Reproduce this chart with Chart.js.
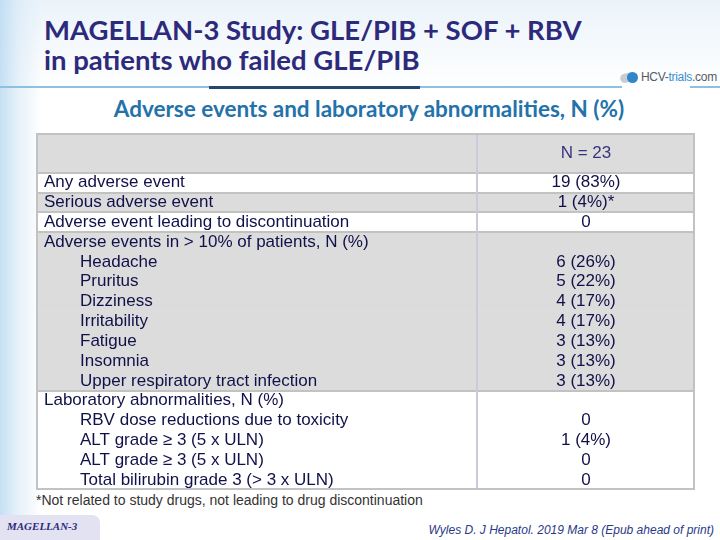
<!DOCTYPE html>
<html>
<head>
<meta charset="utf-8">
<script src="https://cdn.jsdelivr.net/npm/chart.js@4/dist/chart.umd.min.js"></script>
<style>
  html, body { margin: 0; padding: 0; }
  body { width: 720px; height: 540px; position: relative; overflow: hidden; background: #ffffff; font-family: "Liberation Sans", Arial, sans-serif; }
  #bg { position: absolute; left: 0; top: 0; width: 720px; height: 540px;
        background: linear-gradient(90deg, rgba(190,220,242,0.9) 0px, rgba(214,232,246,0.6) 18px, rgba(255,255,255,0) 42px),
                    linear-gradient(180deg, rgba(226,238,248,0.7) 0px, rgba(255,255,255,0) 90px); }
  .title { position: absolute; left: 44px; color: #2d2a7c; font-family: Lato, "Open Sans", sans-serif; font-weight: 700; font-size: 27.5px; white-space: nowrap; line-height: 30px; }
  #t1 { top: 15px; }
  #t2 { top: 45px; }
  #rule1 { position: absolute; left: 0; top: 86px; width: 622px; height: 2px; background: #8fc0e2; }
  #rule2 { position: absolute; left: 690px; top: 86px; width: 30px; height: 2px; background: #8fc0e2; }
  #rule3 { position: absolute; left: 209px; top: 86px; width: 211px; height: 3px; background: #25466e; }
  #logo { position: absolute; left: 618px; top: 70px; width: 100px; height: 16px; }
  #logo .pill { position: absolute; left: 2px; top: 3px; width: 16px; height: 9px; border-radius: 5px; background: #c9ccd2; transform: rotate(-15deg); }
  #logo .dot { position: absolute; left: 9px; top: 2px; width: 11px; height: 11px; border-radius: 6px; background: #2f86c8; }
  #logo .txt { position: absolute; left: 23px; top: 0px; font-family: "Liberation Sans Narrow", "Liberation Sans", sans-serif; font-size: 12px; letter-spacing: -0.3px; color: #555b66; white-space: nowrap; }
  #logo .txt b { font-weight: normal; color: #3b8fd0; }
  #sub { position: absolute; left: 0; width: 738px; top: 95px; text-align: center; color: #2372aa; font-family: Lato, "Open Sans", sans-serif; font-weight: 700; font-size: 22.5px; white-space: nowrap; }
  #wrap { position: absolute; left: 36px; top: 133px; width: 659px; height: 357px; }
  #foot { position: absolute; left: 36px; top: 492px; font-size: 14px; color: #333333; white-space: nowrap; }
  #badge { position: absolute; left: 0; top: 515px; width: 100px; height: 25px; background: #e2e2f2; border-top-right-radius: 8px; }
  #badge span { position: absolute; left: 7px; top: 5px; font-family: "Liberation Serif", serif; font-style: italic; font-weight: bold; font-size: 11px; color: #2d2a7c; }
  #ref { position: absolute; right: 6px; top: 523px; font-style: italic; font-size: 12px; color: #2a3a86; white-space: nowrap; }
</style>
</head>
<body>
<div id="bg"></div>
<div class="title" id="t1">MAGELLAN-3 Study: GLE/PIB + SOF + RBV</div>
<div class="title" id="t2">in patients who failed GLE/PIB</div>
<div id="rule1"></div><div id="rule2"></div><div id="rule3"></div>
<div id="logo"><div class="pill"></div><div class="dot"></div><div class="txt">HCV-<b>trials</b>.com</div></div>
<div id="sub">Adverse events and laboratory abnormalities, N (%)</div>
<div id="wrap"><canvas id="c" width="659" height="357"></canvas></div>
<div id="foot">*Not related to study drugs, not leading to drug discontinuation</div>
<div id="badge"><span>MAGELLAN-3</span></div>
<div id="ref">Wyles D. J Hepatol. 2019 Mar 8 (Epub ahead of print)</div>
<script>
// ---- data ----
const columnHeader = "N = 23";
const rowLabels = [
  "Any adverse event",
  "Serious adverse event",
  "Adverse event leading to discontinuation",
  "Adverse events in > 10% of patients, N (%)",
  "Headache",
  "Pruritus",
  "Dizziness",
  "Irritability",
  "Fatigue",
  "Insomnia",
  "Upper respiratory tract infection",
  "Laboratory abnormalities, N (%)",
  "RBV dose reductions due to toxicity",
  "ALT grade \u2265 3 (5 x ULN)",
  "ALT grade \u2265 3 (5 x ULN)",
  "Total bilirubin grade 3 (> 3 x ULN)"
];
const rowValues = [
  "19 (83%)", "1 (4%)*", "0", "",
  "6 (26%)", "5 (22%)", "4 (17%)", "4 (17%)", "3 (13%)", "3 (13%)", "3 (13%)",
  "", "0", "1 (4%)", "0", "0"
];
// 0 = section row, 1 = sub-item of the section above
const rowLevel = [0, 0, 0, 0, 1, 1, 1, 1, 1, 1, 1, 0, 1, 1, 1, 1];

// ---- derived table structure ----
const headerBands = 2;
const bandLabels = [];
for (let i = 0; i < headerBands; i++) bandLabels.push("");
rowLabels.forEach(l => bandLabels.push(l));
// group index per band: header = 0, every section row starts a new group
const bandGroup = [];
for (let i = 0; i < headerBands; i++) bandGroup.push(0);
let g = 0;
rowLevel.forEach(lv => { if (lv === 0) g++; bandGroup.push(g); });

const GRAY = "#dcdcdc", WHITE = "#ffffff";
const TEXT = "#10104a", HEAD_TEXT = "#35357c";
const SPLIT = 0.669;
const FONT = '17px "Liberation Sans", Arial, sans-serif';

const tablePlugin = {
  id: "tableText",
  afterDatasetsDraw(chart) {
    const ctx = chart.ctx, ys = chart.scales.y, xs = chart.scales.x;
    const ca = chart.chartArea;
    const xSplit = Math.round(xs.getPixelForValue(SPLIT));
    const band = ys.getPixelForValue(1) - ys.getPixelForValue(0);
    ctx.save();
    // horizontal borders between groups
    ctx.strokeStyle = "#c2c2c2";
    ctx.lineWidth = 2;
    for (let i = 1; i < bandGroup.length; i++) {
      if (bandGroup[i] !== bandGroup[i - 1]) {
        const y = Math.round(ys.getPixelForValue(i) - band / 2);
        ctx.beginPath(); ctx.moveTo(ca.left, y); ctx.lineTo(ca.right, y); ctx.stroke();
      }
    }
    // vertical column split
    ctx.strokeStyle = "#cacadf";
    ctx.beginPath(); ctx.moveTo(xSplit, ca.top + 1); ctx.lineTo(xSplit, ca.bottom - 1); ctx.stroke();
    // outer frame
    ctx.strokeStyle = "#c2c2c2";
    ctx.strokeRect(ca.left + 1, ca.top + 1, ca.right - ca.left - 2, ca.bottom - ca.top - 2);

    // texts
    ctx.font = FONT;
    ctx.textBaseline = "middle";
    const hy = (ys.getPixelForValue(0) + ys.getPixelForValue(headerBands - 1)) / 2;
    ctx.fillStyle = HEAD_TEXT;
    ctx.textAlign = "center";
    ctx.fillText(columnHeader, (xSplit + ca.right) / 2, hy);
    ctx.fillStyle = TEXT;
    rowLabels.forEach((lab, i) => {
      const y = ys.getPixelForValue(i + headerBands);
      ctx.textAlign = "left";
      ctx.fillText(lab, ca.left + 8 + rowLevel[i] * 36, y);
      if (rowValues[i]) {
        ctx.textAlign = "center";
        ctx.fillText(rowValues[i], (xSplit + ca.right) / 2, y);
      }
    });
    ctx.restore();
  }
};

new Chart(document.getElementById("c"), {
  type: "bar",
  data: {
    labels: bandLabels,
    datasets: [{
      data: bandLabels.map(() => [0, 1]),
      backgroundColor: bandGroup.map(gr => (gr % 2 === 0 ? GRAY : WHITE)),
      borderWidth: 0,
      barPercentage: 1.0,
      categoryPercentage: 1.0
    }]
  },
  options: {
    indexAxis: "y",
    responsive: false,
    animation: false,
    devicePixelRatio: 1,
    layout: { padding: 0 },
    plugins: { legend: { display: false }, tooltip: { enabled: false } },
    scales: {
      x: { type: "linear", min: 0, max: 1, display: false },
      y: { type: "category", display: false, offset: true }
    }
  },
  plugins: [tablePlugin]
});
</script>
</body>
</html>
